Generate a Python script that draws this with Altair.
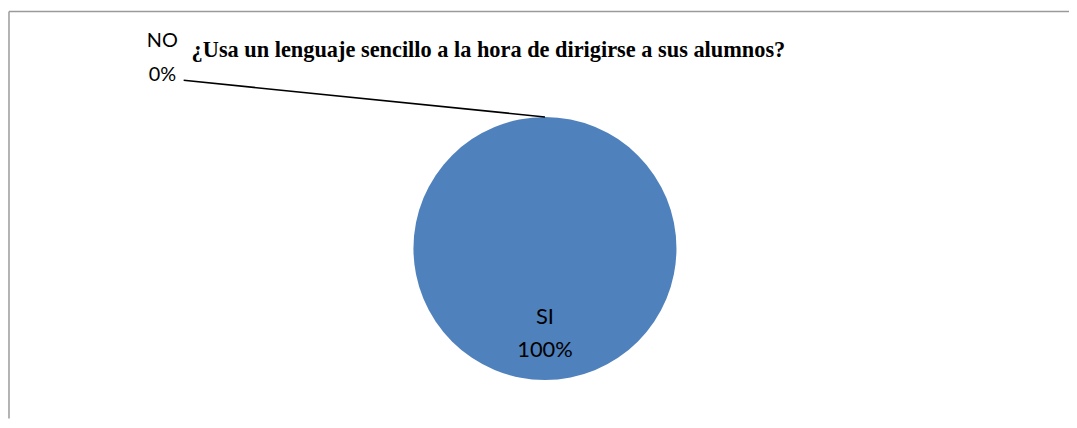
import altair as alt
import pandas as pd

# --- data ---
categories = ["SI", "NO"]
values = [100, 0]
percent_labels = ["100%", "0%"]
chart_title = "¿Usa un lenguaje sencillo a la hora de dirigirse a sus alumnos?"
slice_colors = ["#4F81BD", "#C0504D"]

W, H = 1069, 412
CX, CY = 541.0, 240.7
R = 132.5

df = pd.DataFrame({
    "cat": categories,
    "value": values,
    "label": [f"{c}\n{p}" for c, p in zip(categories, percent_labels)],
})

base = alt.Chart(df)

pie = base.mark_arc(outerRadius=R, x=CX, y=CY, stroke=None).encode(
    theta=alt.Theta("value:Q", stack=True),
    color=alt.Color("cat:N", scale=alt.Scale(domain=categories, range=slice_colors), legend=None),
    order=alt.Order("cat:N", sort="descending"),
)

inside = base.transform_filter("datum.value > 0").mark_text(
    x=CX, y=CY, radius=76, font="Lato", fontSize=22, lineBreak="\n", lineHeight=33,
    align="center", baseline="alphabetic", color="#000000",
).encode(
    theta=alt.Theta("value:Q", stack=True),
    text="label:N",
)

outside = base.transform_filter("datum.value == 0").mark_text(
    font="Lato", fontSize=20, lineBreak="\n", lineHeight=34,
    align="center", baseline="alphabetic", color="#000000",
).encode(
    x=alt.value(155.5), y=alt.value(37.7),
    text="label:N",
)

leader = base.transform_filter("datum.value == 0").mark_rule(
    color="#000000", strokeWidth=1.6,
).encode(
    x=alt.value(177), y=alt.value(71.3), x2=alt.value(CX), y2=alt.value(CY - R),
)

title = alt.Chart(pd.DataFrame({"t": [chart_title]})).mark_text(
    font="Liberation Serif", fontSize=22.5, fontWeight="bold",
    align="left", baseline="alphabetic", color="#000000",
).encode(
    x=alt.value(185), y=alt.value(48), text="t:N",
)

frame_v = alt.Chart(pd.DataFrame({"k": [0]})).mark_rule(color="#9a9a9a", strokeWidth=1.5).encode(
    x=alt.value(1), y=alt.value(2), y2=alt.value(H),
)
frame_h = alt.Chart(pd.DataFrame({"k": [0]})).mark_rule(color="#9a9a9a", strokeWidth=1.5).encode(
    x=alt.value(1), x2=alt.value(W), y=alt.value(2),
)

chart = alt.layer(frame_v, frame_h, pie, leader, inside, outside, title).properties(
    width=W, height=H, padding=0, autosize=alt.AutoSizeParams(type="none"),
    background="white",
).configure_view(stroke=None)

chart.save("out.html", embed_options={"renderer": "svg", "actions": False})
